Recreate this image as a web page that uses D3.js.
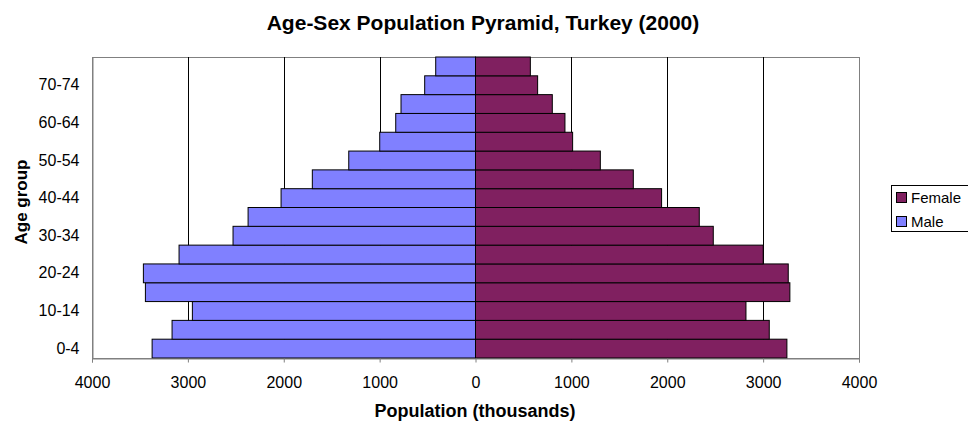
<!DOCTYPE html>
<html><head><meta charset="utf-8">
<script src="https://cdn.jsdelivr.net/npm/d3@7"></script>
<style>body{margin:0;background:#fff}svg{display:block;font-family:"Liberation Sans",Arial,sans-serif}</style>
</head><body><svg id="c" width="968" height="424"></svg>
<script>
const ageGroups = ["0-4","5-9","10-14","15-19","20-24","25-29","30-34","35-39","40-44","45-49","50-54","55-59","60-64","65-69","70-74","75+"];
const maleValues = [3373,3165,2953,3443,3464,3092,2529,2372,2028,1702,1322,999,832,777,530,415];
const femaleValues = [3248,3064,2821,3279,3262,3001,2480,2334,1941,1646,1302,1013,933,801,648,572];
const xTickValues = [-4000,-3000,-2000,-1000,0,1000,2000,3000,4000];
const shownLabels = ["0-4","10-14","20-24","30-34","40-44","50-54","60-64","70-74"];
const seriesNames = ["Female","Male"];
const colors = {Female:"#802060", Male:"#8080FF"};

const svg = d3.select("#c");
const L=92, R=859, T=57, B=358;
const x = d3.scaleLinear().domain([-4000,4000]).range([L,R]);
const y = d3.scaleBand().domain(ageGroups.slice().reverse()).range([T,B]).padding(0);

// plot border
svg.append("rect").attr("x",L+0.5).attr("y",T+0.5).attr("width",R-L).attr("height",B-T)
  .attr("fill","#fff").attr("stroke","#808080").attr("stroke-width",1);

// gridlines
svg.append("g").selectAll("line").data(xTickValues.filter(v=>v!==0 && Math.abs(v)!==4000)).join("line")
  .attr("x1",d=>Math.round(x(d))+0.5).attr("x2",d=>Math.round(x(d))+0.5).attr("y1",T).attr("y2",B)
  .attr("stroke","#000").attr("stroke-width",1);

// bars
svg.append("g").selectAll("rect").data(ageGroups).join("rect")
  .attr("x",(d,i)=>x(-maleValues[i])).attr("width",(d,i)=>x(0)-x(-maleValues[i]))
  .attr("y",d=>y(d)).attr("height",y.bandwidth())
  .attr("fill",colors.Male).attr("stroke","#000").attr("stroke-width",1);
svg.append("g").selectAll("rect").data(ageGroups).join("rect")
  .attr("x",x(0)).attr("width",(d,i)=>x(femaleValues[i])-x(0))
  .attr("y",d=>y(d)).attr("height",y.bandwidth())
  .attr("fill",colors.Female).attr("stroke","#000").attr("stroke-width",1);

// x axis
const xAxis = d3.axisBottom(x).tickValues(xTickValues).tickFormat(d=>Math.abs(d)).tickSize(4).tickPadding(14);
const gx = svg.append("g").attr("transform",`translate(0,${B+0.5})`).call(xAxis);
gx.select(".domain").attr("stroke","#808080");
gx.selectAll(".tick line").attr("stroke","#808080");
gx.selectAll("text").attr("font-size",16).attr("fill","#000").attr("font-family","Liberation Sans, Arial, sans-serif");

// y axis
const yAxis = d3.axisLeft(y).tickSize(0).tickPadding(13).tickFormat(d=>shownLabels.includes(d)?d:"");
const gy = svg.append("g").attr("transform",`translate(${L+0.5},0)`).call(yAxis);
gy.select(".domain").attr("stroke","#808080");
gy.selectAll("text").attr("font-size",16).attr("fill","#000").attr("font-family","Liberation Sans, Arial, sans-serif");

// titles
svg.append("text").attr("x",483).attr("y",30).attr("text-anchor","middle")
  .attr("font-size",21).attr("font-weight","bold").text("Age-Sex Population Pyramid, Turkey (2000)");
svg.append("text").attr("x",475).attr("y",417).attr("text-anchor","middle")
  .attr("font-size",18).attr("font-weight","bold").text("Population (thousands)");
svg.append("text").attr("transform",`translate(27,202) rotate(-90)`).attr("text-anchor","middle")
  .attr("font-size",17).attr("font-weight","bold").text("Age group");

// legend
const lg = svg.append("g");
lg.append("rect").attr("x",891.5).attr("y",185.5).attr("width",90).attr("height",46)
  .attr("fill","#fff").attr("stroke","#000").attr("stroke-width",1);
seriesNames.forEach((n,i)=>{
  const yy = 192 + i*24;
  lg.append("rect").attr("x",896.5).attr("y",yy+0.5).attr("width",10).attr("height",10)
    .attr("fill",colors[n]).attr("stroke","#000");
  lg.append("text").attr("x",911).attr("y",yy+11).attr("font-size",15).text(n);
});
</script></body></html>
